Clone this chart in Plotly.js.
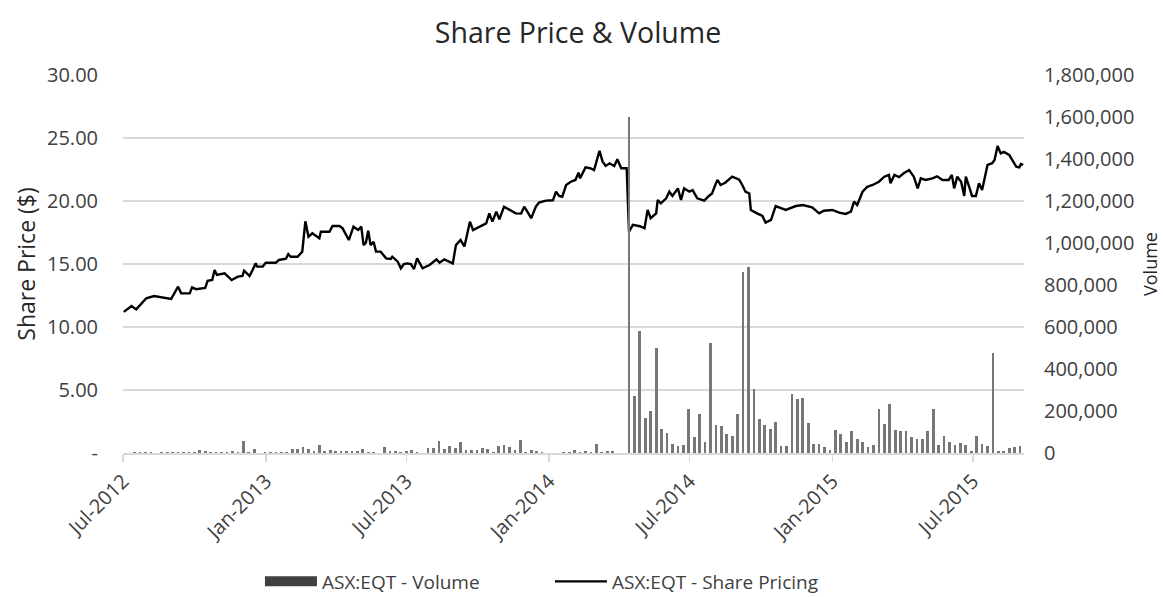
<!DOCTYPE html>
<html>
<head>
<meta charset="utf-8">
<script src="https://cdn.plot.ly/plotly-3.0.1.min.js"></script>
<style>
html,body{margin:0;padding:0;background:#fff;}
#chart{width:1163px;height:597px;}
</style>
</head>
<body>
<div id="chart"></div>
<script>
// Weekly volume (ASX:EQT)
var volumeDates = [
"2012-07-02","2012-07-09","2012-07-16","2012-07-23","2012-07-30","2012-08-06","2012-08-13","2012-08-20","2012-08-27","2012-09-03",
"2012-09-10","2012-09-17","2012-09-24","2012-10-01","2012-10-08","2012-10-15","2012-10-22","2012-10-29","2012-11-05","2012-11-12",
"2012-11-19","2012-11-26","2012-12-03","2012-12-10","2012-12-17","2012-12-24","2012-12-31",
"2013-01-07","2013-01-14","2013-01-21","2013-01-28","2013-02-04","2013-02-11","2013-02-18","2013-02-25","2013-03-04","2013-03-11",
"2013-03-18","2013-03-25","2013-04-01","2013-04-08","2013-04-15","2013-04-22","2013-04-29","2013-05-06","2013-05-13","2013-05-20",
"2013-05-27","2013-06-03","2013-06-10","2013-06-17","2013-06-24","2013-07-01","2013-07-08","2013-07-15","2013-07-22","2013-07-29",
"2013-08-05","2013-08-12","2013-08-19","2013-08-26","2013-09-02","2013-09-09","2013-09-16","2013-09-23","2013-09-30","2013-10-07",
"2013-10-14","2013-10-21","2013-10-28","2013-11-04","2013-11-11","2013-11-18","2013-11-25","2013-12-02","2013-12-09","2013-12-16",
"2013-12-23","2013-12-30",
"2014-01-06","2014-01-13","2014-01-20","2014-01-27","2014-02-03","2014-02-10","2014-02-17","2014-02-24","2014-03-03","2014-03-10",
"2014-03-17","2014-03-24","2014-03-31","2014-04-07","2014-04-14","2014-04-21","2014-04-28","2014-05-05","2014-05-12","2014-05-19",
"2014-05-26","2014-06-02","2014-06-09","2014-06-16","2014-06-23","2014-06-30","2014-07-07","2014-07-14","2014-07-21","2014-07-28",
"2014-08-04","2014-08-11","2014-08-18","2014-08-25","2014-09-01","2014-09-08","2014-09-15","2014-09-22","2014-09-29","2014-10-06",
"2014-10-13","2014-10-20","2014-10-27","2014-11-03","2014-11-10","2014-11-17","2014-11-24","2014-12-01","2014-12-08","2014-12-15",
"2014-12-22","2014-12-29",
"2015-01-05","2015-01-12","2015-01-19","2015-01-26","2015-02-02","2015-02-09","2015-02-16","2015-02-23","2015-03-02","2015-03-09",
"2015-03-16","2015-03-23","2015-03-30","2015-04-06","2015-04-13","2015-04-20","2015-04-27","2015-05-04","2015-05-11","2015-05-18",
"2015-05-25","2015-06-01","2015-06-08","2015-06-15","2015-06-22","2015-06-29","2015-07-06","2015-07-13","2015-07-20","2015-07-27",
"2015-08-03","2015-08-10","2015-08-17","2015-08-24","2015-08-31"
];
var volumeValues = [
2000,2000,3000,3000,3000,3000,2000,3000,6000,5000,5000,5000,5000,3000,12000,10000,6000,5000,3000,5000,11000,5000,58000,6000,17000,0,3000,
3000,3000,3000,6000,19000,19000,29000,21000,11000,38000,11000,16000,8000,11000,11000,10000,8000,21000,3000,3000,0,27000,10000,8000,6000,8000,12000,6000,
0,22000,22000,58000,17000,32000,22000,54000,13000,13000,13000,24000,17000,5000,33000,40000,27000,16000,60000,5000,13000,11000,6000,0,0,0,6000,3000,14000,3000,11000,5000,45000,3000,8000,8000,0,0,
1600000,271000,582000,165000,201000,498000,113000,94000,41000,33000,38000,211000,78000,184000,54000,522000,133000,128000,90000,81000,184000,862000,887000,305000,162000,132000,113000,146000,33000,33000,279000,256000,262000,141000,41000,45000,30000,14000,
110000,89000,54000,105000,65000,54000,27000,38000,208000,137000,233000,110000,105000,105000,75000,67000,69000,105000,210000,36000,83000,51000,38000,49000,38000,11000,81000,45000,33000,478000,8000,8000,22000,28000,33000
];

// Share price (ASX:EQT)
var priceDates = [
"2012-07-02","2012-07-05","2012-07-12","2012-07-18","2012-07-31","2012-08-10","2012-08-21","2012-09-01","2012-09-10","2012-09-14",
"2012-09-25","2012-09-28","2012-10-03","2012-10-15","2012-10-18","2012-10-24","2012-10-27","2012-10-30","2012-11-09","2012-11-18",
"2012-11-26","2012-12-02","2012-12-04","2012-12-11","2012-12-15","2012-12-19","2012-12-21","2012-12-28","2013-01-01","2013-01-14",
"2013-01-18","2013-01-27","2013-01-30","2013-02-02","2013-02-11","2013-02-17","2013-02-21","2013-02-25","2013-03-02","2013-03-11",
"2013-03-13","2013-03-24","2013-03-28","2013-04-06","2013-04-10","2013-04-18","2013-04-24","2013-04-30","2013-05-04","2013-05-07",
"2013-05-10","2013-05-13","2013-05-16","2013-05-20","2013-05-23","2013-05-29","2013-06-05","2013-06-11","2013-06-13","2013-06-20",
"2013-06-24","2013-06-28","2013-07-02","2013-07-07","2013-07-11","2013-07-15","2013-07-22","2013-07-31","2013-08-09","2013-08-13",
"2013-08-19","2013-08-30","2013-09-03","2013-09-09","2013-09-14","2013-09-21","2013-09-25","2013-10-03","2013-10-12","2013-10-16",
"2013-10-20","2013-10-25","2013-10-29","2013-11-04","2013-11-11","2013-11-19","2013-11-26","2013-11-30","2013-12-04","2013-12-09",
"2013-12-15","2013-12-19","2013-12-28","2014-01-06","2014-01-10","2014-01-14","2014-01-18","2014-01-23","2014-01-29","2014-02-04",
"2014-02-08","2014-02-10","2014-02-17","2014-02-23","2014-02-28","2014-03-07","2014-03-11","2014-03-15","2014-03-20","2014-03-26",
"2014-03-30","2014-04-04","2014-04-11","2014-04-14","2014-04-19","2014-04-28","2014-05-04","2014-05-08","2014-05-12","2014-05-19",
"2014-05-21","2014-05-25","2014-06-01","2014-06-05","2014-06-09","2014-06-16","2014-06-20","2014-06-24","2014-07-01","2014-07-05",
"2014-07-11","2014-07-20","2014-07-26","2014-07-30","2014-08-04","2014-08-06","2014-08-10","2014-08-16","2014-08-25","2014-09-03",
"2014-09-07","2014-09-11","2014-09-16","2014-09-18","2014-09-26","2014-10-03","2014-10-07","2014-10-14","2014-10-20","2014-10-27",
"2014-11-02","2014-11-15","2014-11-24","2014-12-06","2014-12-15","2014-12-21","2015-01-01","2015-01-10","2015-01-18","2015-01-25",
"2015-01-29","2015-02-02","2015-02-09","2015-02-15","2015-02-22","2015-03-02","2015-03-09","2015-03-15","2015-03-17","2015-03-22",
"2015-03-28","2015-04-03","2015-04-10","2015-04-16","2015-04-21","2015-04-25","2015-05-01","2015-05-10","2015-05-16","2015-05-23",
"2015-05-31","2015-06-04","2015-06-07","2015-06-11","2015-06-16","2015-06-20","2015-06-22","2015-06-27","2015-06-30","2015-07-05",
"2015-07-09","2015-07-13","2015-07-16","2015-07-20","2015-07-26","2015-07-29","2015-08-02","2015-08-06","2015-08-10","2015-08-17",
"2015-08-21","2015-08-26","2015-08-30","2015-09-01","2015-09-04"
];
var priceValues = [
11.20,11.35,11.67,11.40,12.28,12.46,12.36,12.22,13.20,12.67,
12.67,13.15,13.00,13.10,13.67,13.73,14.52,14.13,14.26,13.73,
14.00,14.05,14.47,14.05,14.52,15.05,14.79,14.80,15.10,15.10,
15.32,15.42,15.79,15.58,15.58,15.98,18.39,17.17,17.43,17.04,
17.56,17.56,18.02,18.02,17.83,16.90,17.96,17.70,17.96,16.50,
16.70,17.64,16.50,16.75,15.98,15.98,15.45,15.40,15.58,15.19,
14.66,15.00,15.05,15.00,14.60,15.45,14.66,14.92,15.37,15.10,
15.37,15.05,16.50,16.90,16.38,18.36,17.70,17.96,18.23,19.02,
18.36,19.15,18.55,19.55,19.29,19.02,19.00,19.55,19.15,18.63,
19.55,19.87,20.03,20.06,20.74,20.40,20.34,21.27,21.53,21.67,
22.25,21.80,22.67,22.60,22.46,23.99,23.12,22.78,22.99,22.78,
23.31,22.60,22.60,17.56,18.10,18.00,17.83,19.29,18.63,19.02,
20.08,19.82,20.21,20.74,20.40,21.00,20.08,21.00,20.74,20.87,
20.21,20.03,20.40,20.60,21.40,21.67,21.27,21.45,21.93,21.70,
21.27,20.74,20.60,19.29,19.02,18.81,18.28,18.50,19.60,19.40,
19.29,19.60,19.68,19.50,19.02,19.23,19.29,19.08,18.97,19.15,
19.95,19.68,20.74,21.13,21.27,21.53,21.93,22.07,21.40,22.07,
21.90,22.20,22.46,21.93,21.00,21.80,21.67,21.80,21.96,21.67,
21.67,22.07,21.00,21.93,21.53,20.40,21.93,21.00,20.40,20.40,
21.40,20.87,21.80,22.86,23.00,23.25,24.37,23.78,23.90,23.65,
23.25,22.72,22.67,22.93,22.86
];

var priceTicks = [0,5,10,15,20,25,30];
var priceTickText = ["-","5.00","10.00","15.00","20.00","25.00","30.00"];

var FONT = "Open Sans, Noto Sans, sans-serif";
var TXT = "#404040";

var traces = [
  {
    type: "bar",
    name: "ASX:EQT - Volume",
    legendgroup: "vol",
    showlegend: false,
    x: volumeDates,
    y: volumeValues,
    yaxis: "y2",
    width: 3.5 * 86400000,
    marker: {color: "#777777", line: {width: 0}},
    hoverinfo: "x+y"
  },
  {
    // legend key for the volume bars (wide filled block, as in the original)
    type: "scatter",
    mode: "lines",
    name: "ASX:EQT - Volume",
    legendgroup: "vol",
    x: [null],
    y: [null],
    yaxis: "y2",
    line: {color: "#404040", width: 14},
    hoverinfo: "skip"
  },
  {
    type: "scatter",
    mode: "lines",
    name: "ASX:EQT - Share Pricing",
    x: priceDates,
    y: priceValues,
    yaxis: "y",
    line: {color: "#000000", width: 2.4}
  }
];

var layout = {
  width: 1163,
  height: 597,
  margin: {l: 123, r: 139, t: 75, b: 144, autoexpand: false},
  paper_bgcolor: "#ffffff",
  plot_bgcolor: "#ffffff",
  font: {family: FONT, color: TXT, size: 20},
  showlegend: true,
  title: {
    text: "Share Price & Volume",
    font: {family: FONT, size: 28.5, color: "#262626"},
    x: 0.505, xanchor: "center", xref: "paper",
    y: 0.945, yanchor: "middle", yref: "container"
  },
  xaxis: {
    type: "date",
    range: ["2012-07-01", "2015-09-05"],
    tick0: "2012-07-01",
    dtick: "M6",
    tickformat: "%b-%Y",
    tickangle: -45,
    tickfont: {family: FONT, size: 20, color: TXT},
    showgrid: false,
    zeroline: false,
    showline: true,
    linecolor: "#d9d9d9",
    linewidth: 1.5,
    ticks: "outside",
    ticklen: 7,
    tickcolor: "#d9d9d9",
    tickwidth: 1.5,
    automargin: false
  },
  yaxis: {
    range: [0, 30],
    tickvals: priceTicks,
    ticktext: priceTickText,
    tickfont: {family: FONT, size: 20, color: TXT},
    showgrid: true,
    gridcolor: "#d9d9d9",
    gridwidth: 1.5,
    zeroline: false,
    showline: false,
    ticks: "",
    ticklabelstandoff: 24,
    automargin: false,
    title: {text: "Share Price ($)", font: {family: FONT, size: 23, color: "#262626"}, standoff: 4}
  },
  yaxis2: {
    overlaying: "y",
    side: "right",
    range: [0, 1800000],
    dtick: 200000,
    tickformat: ",",
    tickfont: {family: FONT, size: 20, color: TXT},
    showgrid: false,
    zeroline: false,
    showline: false,
    ticks: "",
    ticklabelstandoff: 19,
    automargin: false,
    title: {text: "Volume", font: {family: FONT, size: 18, color: "#262626"}, standoff: 10}
  },
  legend: {
    orientation: "h",
    x: 0.152, xanchor: "left",
    y: -0.34, yanchor: "middle",
    font: {family: FONT, size: 19, color: TXT},
    itemwidth: 52,
    entrywidth: 223,
    entrywidthmode: "pixels",
    tracegroupgap: 0
  },
  bargap: 0
};

Plotly.newPlot("chart", traces, layout, {displayModeBar: false, staticPlot: true});
</script>
</body>
</html>
